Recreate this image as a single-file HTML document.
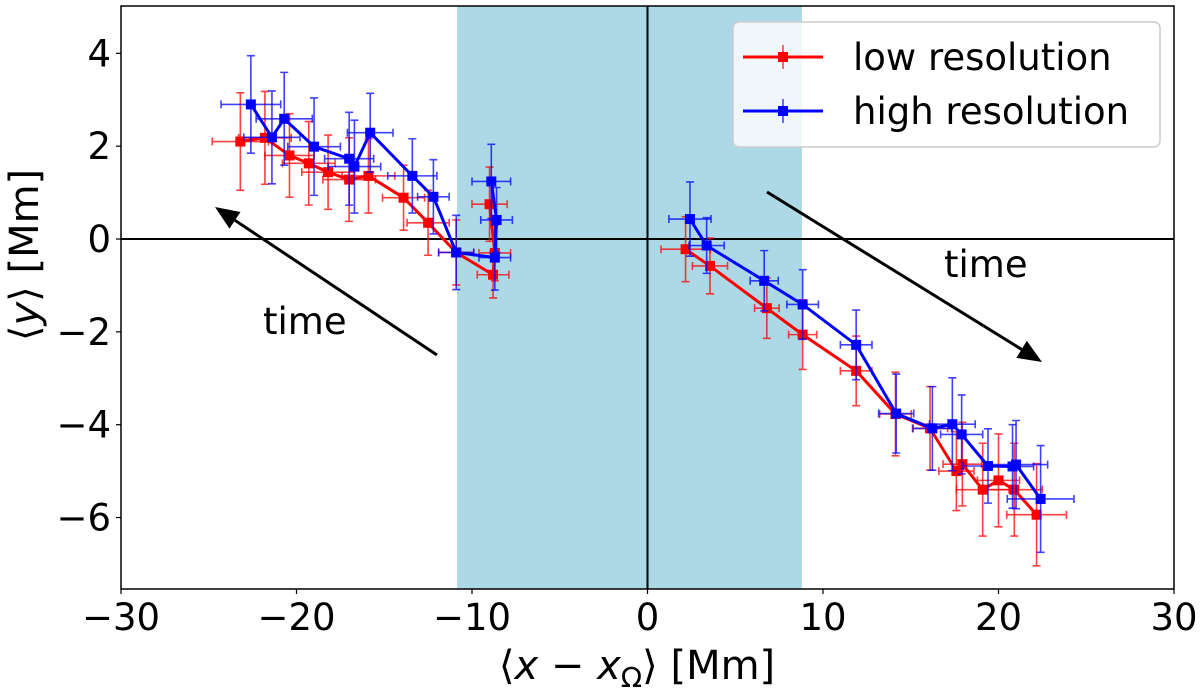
<!DOCTYPE html>
<html><head><meta charset="utf-8"><style>
html,body{margin:0;padding:0;background:#fff;}
svg{display:block;font-family:"DejaVu Sans","Liberation Sans",sans-serif;}
</style></head><body>
<svg id="chart" width="1200" height="693" viewBox="0 0 1200 693" xmlns="http://www.w3.org/2000/svg"></svg>
<script>
const xTicks=[-30,-20,-10,0,10,20,30];
const yTicks=[4,2,0,-2,-4,-6];
const shadeRange=[-10.85,8.8];
const lowX=[-23.2,-21.8,-20.4,-19.3,-18.2,-17.0,-15.9,-13.9,-12.5,-10.9,-8.8,-8.7,-9.0];
const lowY=[2.1,2.18,1.8,1.63,1.44,1.28,1.36,0.89,0.35,-0.29,-0.77,-0.3,0.75];
const lowXerr=[1.6,1.5,1.4,1.5,1.5,1.5,1.5,1.2,1.2,1.0,0.9,0.9,1.0];
const lowYerr=[1.05,1.0,0.9,0.9,0.8,0.9,0.8,0.7,0.7,0.7,0.5,0.6,0.8];
const highX=[-22.6,-21.4,-20.7,-19.0,-17.0,-16.7,-15.8,-13.4,-12.2,-10.9,-8.7,-8.6,-8.9];
const highY=[2.9,2.19,2.59,1.99,1.73,1.56,2.29,1.36,0.91,-0.29,-0.4,0.41,1.24];
const highXerr=[1.7,1.6,1.6,1.5,1.4,1.5,1.3,1.4,0.9,1.0,0.9,0.9,1.1];
const highYerr=[1.05,1.0,1.0,1.05,1.0,1.0,0.85,0.8,0.8,0.8,0.7,0.7,0.8];
const lowX2=[2.17,3.56,6.8,8.84,11.89,14.13,16.1,17.6,17.94,19.1,20.0,20.9,22.17];
const lowY2=[-0.22,-0.58,-1.49,-2.06,-2.84,-3.77,-4.08,-5.0,-4.85,-5.4,-5.2,-5.4,-5.94];
const lowXerr2=[1.4,1.0,0.7,0.8,0.9,0.9,1.0,1.0,1.1,1.5,1.2,1.6,1.7];
const lowYerr2=[0.7,0.6,0.65,0.75,0.75,0.9,0.9,0.85,0.9,1.0,1.0,1.0,1.1];
const highX2=[2.42,3.37,6.65,8.84,11.89,14.17,16.23,17.37,17.9,19.4,20.8,21.0,22.4];
const highY2=[0.43,-0.14,-0.9,-1.41,-2.28,-3.76,-4.08,-3.99,-4.21,-4.89,-4.9,-4.86,-5.6];
const highXerr2=[1.2,1.0,0.8,0.9,0.9,1.0,1.1,1.3,1.2,1.4,1.2,1.8,1.9];
const highYerr2=[0.8,0.6,0.65,0.75,0.75,0.85,0.9,1.0,0.85,0.8,0.9,0.95,1.15];

const L=121,R=1174,T=6,B=589,xMin=-30,xMax=30,yMin=-7.54,yMax=5.02;
const sx=v=>L+(v-xMin)/(xMax-xMin)*(R-L);
const sy=v=>B-(v-yMin)/(yMax-yMin)*(B-T);
const svg=document.getElementById('chart');
const NS='http://www.w3.org/2000/svg';
function mk(tag,attrs,parent){const e=document.createElementNS(NS,tag);for(const k in attrs)e.setAttribute(k,attrs[k]);(parent||svg).appendChild(e);return e;}

const shade=mk('rect',{x:sx(shadeRange[0]),y:T,width:sx(shadeRange[1])-sx(shadeRange[0]),height:B-T,fill:'#add8e6'});


const h0=mk('line',{x1:L,x2:R,y1:sy(0),y2:sy(0),stroke:'#000','stroke-width':2});


const v0=mk('line',{x1:sx(0),x2:sx(0),y1:T,y2:B,stroke:'#000','stroke-width':2});



function series(xs,ys,xe,ye,col,name){
  const g=mk('g',{});
  
  
  for(let i=0;i<xs.length;i++){
    const x=sx(xs[i]),y=sy(ys[i]),x0=sx(xs[i]-xe[i]),x1=sx(xs[i]+xe[i]),y0=sy(ys[i]+ye[i]),y1=sy(ys[i]-ye[i]);
    const eb=mk('path',{d:`M${x0},${y}H${x1}M${x},${y0}V${y1}M${x0},${y-4}v8M${x1},${y-4}v8M${x-4},${y0}h8M${x-4},${y1}h8`,stroke:col,'stroke-width':1.6,fill:'none',opacity:0.75},g);
    
    
  }
  const pl=mk('polyline',{points:xs.map((v,i)=>sx(v)+','+sy(ys[i])).join(' '),stroke:col,'stroke-width':3,fill:'none'},g);
  
  
  for(let i=0;i<xs.length;i++){
    const m=mk('rect',{x:sx(xs[i])-5,y:sy(ys[i])-5,width:10,height:10,fill:col},g);
    
    
  }
}
series(lowX,lowY,lowXerr,lowYerr,'#ff0000','low-res-left');
series(highX,highY,highXerr,highYerr,'#0000ff','high-res-left');
series(lowX2,lowY2,lowXerr2,lowYerr2,'#ff0000','low-res-right');
series(highX2,highY2,highXerr2,highYerr2,'#0000ff','high-res-right');

function arrow(x1,y1,x2,y2,name){
  const g=mk('g',{});
  
  
  const a=Math.atan2(y2-y1,x2-x1),len=24,w=10;
  const bx=x2-len*Math.cos(a),by=y2-len*Math.sin(a);
  mk('line',{x1:x1,y1:y1,x2:bx,y2:by,stroke:'#000','stroke-width':3},g);
  mk('polygon',{points:`${x2},${y2} ${bx+w*Math.sin(a)},${by-w*Math.cos(a)} ${bx-w*Math.sin(a)},${by+w*Math.cos(a)}`,fill:'#000'},g);
}
arrow(437,355,215,207,'time-arrow-left');
arrow(767,192,1042,362,'time-arrow-right');
const t1=mk('text',{x:263,y:334,'font-size':37,fill:'#000'});t1.textContent='time';


const t2=mk('text',{x:944,y:277,'font-size':37,fill:'#000'});t2.textContent='time';



const fr=mk('rect',{x:L,y:T,width:R-L,height:B-T,fill:'none',stroke:'#000','stroke-width':1.5});



xTicks.forEach(v=>{
  mk('line',{x1:sx(v),x2:sx(v),y1:B,y2:B+5,stroke:'#000','stroke-width':1.2});
  const t=mk('text',{x:sx(v),y:630,'font-size':37,'text-anchor':'middle'});
  t.textContent=(v<0?'\u2212':'')+Math.abs(v);
  
  
});
yTicks.forEach(v=>{
  mk('line',{x1:L-5,x2:L,y1:sy(v),y2:sy(v),stroke:'#000','stroke-width':1.2});
  const t=mk('text',{x:111,y:sy(v)+13,'font-size':37,'text-anchor':'end'});
  t.textContent=(v<0?'\u2212':'')+Math.abs(v);
  
  
});
const xl=mk('text',{x:637,y:679,'font-size':40,'text-anchor':'middle'});
xl.innerHTML='\u27E8<tspan font-style="italic">x</tspan> \u2212 <tspan font-style="italic">x</tspan><tspan font-size="28" dy="8">\u03A9</tspan><tspan dy="-8">\u27E9 [Mm]</tspan>';


const yl=mk('text',{x:0,y:0,'font-size':40,'text-anchor':'middle',transform:'translate(38,255) rotate(-90)'});
yl.innerHTML='\u27E8<tspan font-style="italic">y</tspan>\u27E9 [Mm]';



const lg=mk('g',{});


mk('rect',{x:733,y:22,width:427,height:125,rx:6,fill:'#fff','fill-opacity':0.8,stroke:'#ccc','stroke-width':1.5},lg);
[['low resolution','#ff0000',57],['high resolution','#0000ff',111]].forEach(([lab,c,y])=>{
  const e=mk('g',{},lg);
  
  
  mk('line',{x1:743,x2:823,y1:y,y2:y,stroke:c,'stroke-width':3},e);
  mk('path',{d:`M766,${y}h34M783,${y-12}v24`,stroke:c,'stroke-width':1.5,opacity:0.75},e);
  mk('rect',{x:778,y:y-5,width:10,height:10,fill:c},e);
  const t=mk('text',{x:853,y:y+13,'font-size':37},e);t.textContent=lab;
});
</script>
</body></html>
